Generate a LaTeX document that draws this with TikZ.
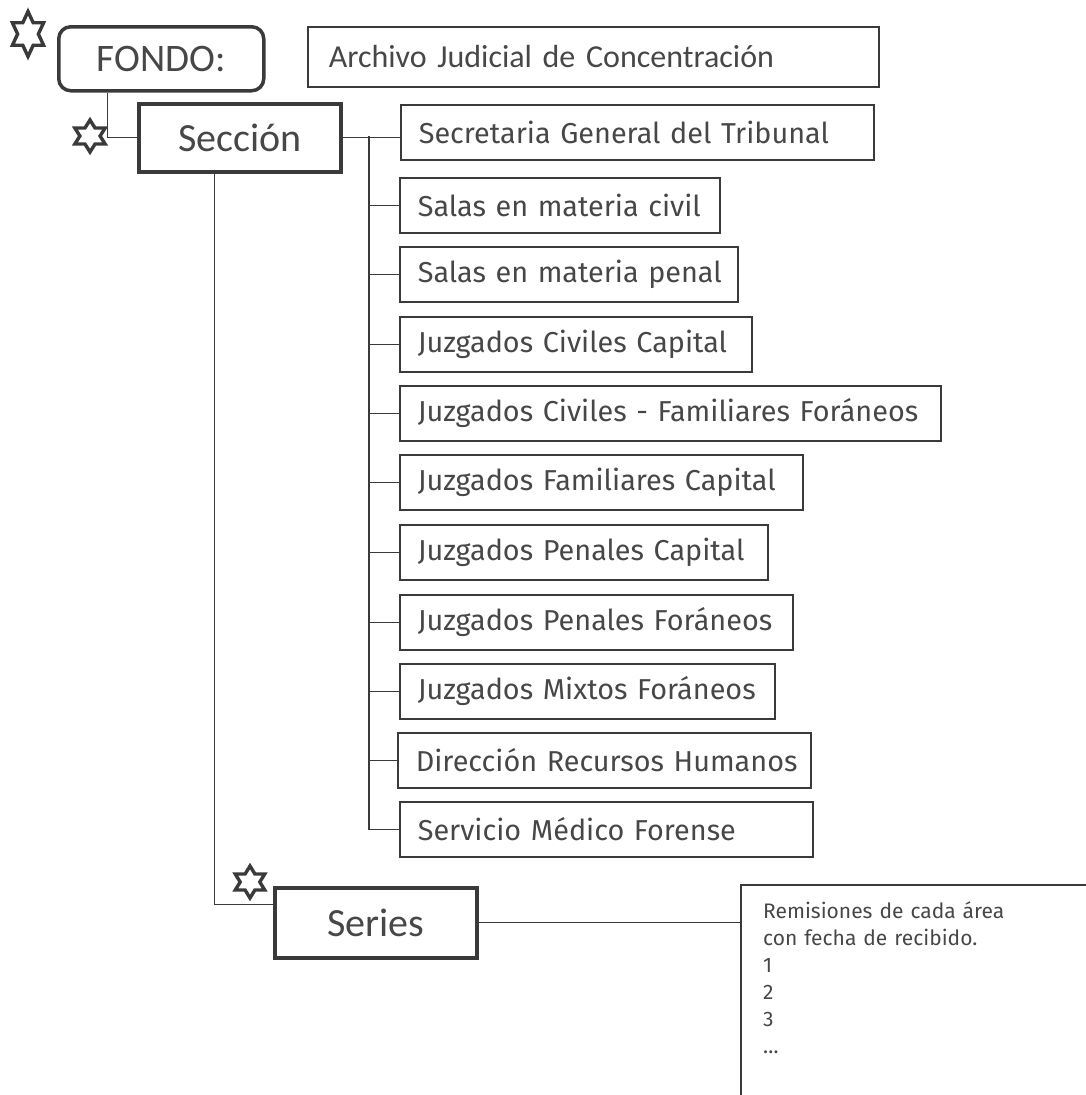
\documentclass[tikz,border=0pt]{standalone}
\usepackage{fontspec}
\setmainfont{Carlito}
\newfontfamily\listfont{Fira Sans}
\usetikzlibrary{calc}
\definecolor{ink}{HTML}{3A3A3A}
\definecolor{txt}{HTML}{474747}
\begin{document}
\begin{tikzpicture}[x=1pt,y=-1pt,
  conn/.style={draw=ink, line width=1.3pt},
  bigbox/.style={draw=ink, line width=3.5pt, anchor=north west, inner sep=0pt,
    font=\fontsize{40}{48}\selectfont, text=txt},
  lbox/.style={draw=ink, line width=1.6pt, anchor=north west, minimum height=55pt,
    inner xsep=18pt, inner ysep=0pt, align=left, text=txt,
    font=\listfont\fontsize{28.8}{34}\selectfont},
  hexstar/.pic={\draw[ink, line width=3.4pt, line join=miter]
    (90:1) -- (120:.577) -- (150:1) -- (180:.577) -- (210:1) -- (240:.577) --
    (270:1) -- (300:.577) -- (330:1) -- (0:.577) -- (30:1) -- (60:.577) -- cycle;}
]
\useasboundingbox (0,0) rectangle (1086,1095);
\clip (0,0) rectangle (1086,1095);

% top level
\node[bigbox, rounded corners=12pt, minimum width=205pt, minimum height=64pt,
  font=\fontsize{39}{46}\selectfont] (fondo) at (57,25) {FONDO:};
\node[lbox, font=\fontsize{32}{38}\selectfont, minimum height=60pt, inner xsep=21pt,
  text width=529pt] (arch) at (307,26) {\mbox{Archivo Judicial de Concentración}};
\node[bigbox, minimum width=202pt, minimum height=68pt] (sec) at (137,102) {Sección};
\node[bigbox, minimum width=202pt, minimum height=70pt] (series) at (273,886) {Series};

% list of sections
\node[lbox, text width=437pt] (secr) at (400,104) {\mbox{Secretaria General del Tribunal}};
\node[lbox, text width=284pt] (civ)  at (399,177) {\mbox{Salas en materia civil}};
\node[lbox, text width=302pt] (pen)  at (399,246) {\mbox{Salas en materia penal}};
\node[lbox, text width=316pt] (jcc)  at (399,316) {\mbox{Juzgados Civiles Capital}};
\node[lbox, text width=505pt] (jcf)  at (399,385) {\mbox{Juzgados Civiles - Familiares Foráneos}};
\node[lbox, text width=367pt] (jfc)  at (399,454) {\mbox{Juzgados Familiares Capital}};
\node[lbox, text width=332pt] (jpc)  at (399,524) {\mbox{Juzgados Penales Capital}};
\node[lbox, text width=357pt] (jpf)  at (399,594) {\mbox{Juzgados Penales Foráneos}};
\node[lbox, text width=339pt] (jmf)  at (399,663) {\mbox{Juzgados Mixtos Foráneos}};
\node[lbox, text width=377pt] (drh)  at (397,732) {\mbox{Dirección Recursos Humanos}};
\node[lbox, text width=377pt] (serv) at (399,801) {\mbox{Servicio Médico Forense}};

% result box (cut off at the page edge)
\coordinate (resc) at (741,885);
\draw[ink, line width=1.6pt] (741,1120) -- (resc) -- (1120,885);
\node[anchor=north west, inner xsep=22pt, inner ysep=16pt, text=txt, align=left,
  text width=320pt, font=\listfont\fontsize{21}{27}\selectfont] (res) at (resc)
  {Remisiones de cada área\\con fecha de recibido.\\1\\2\\3\\…};

% connectors
\draw[conn] ([xshift=-53.5pt]fondo.south) |- (sec.west);
\coordinate (tk) at (369,136);
\draw[conn] (sec.east) -- (sec.east -| secr.west);
\draw[conn] (tk) |- (serv.west);
\foreach \n in {civ,pen,jcc,jcf,jfc,jpc,jpf,jmf,drh}
  \draw[conn] (tk |- \n.west) -- (\n.west);
\draw[conn] ([xshift=-25pt]sec.south) |- ([yshift=18pt]series.west);
\draw[conn] (series.east) -- (series.east -| resc);

% stars
\pic[xscale=18, yscale=22.5] at (28,34) {hexstar};
\pic[xscale=17.5, yscale=16] at (90,136) {hexstar};
\pic[xscale=17, yscale=16] at (250,882) {hexstar};
\end{tikzpicture}
\end{document}
